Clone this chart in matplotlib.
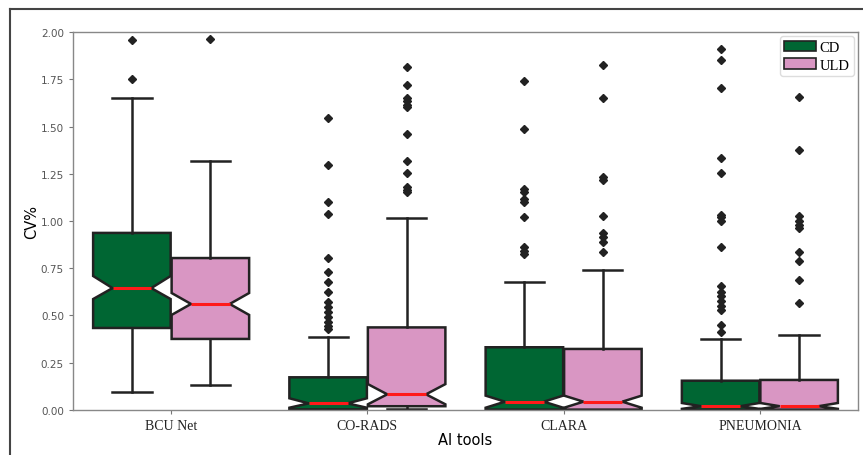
import numpy as np
import matplotlib
matplotlib.use("Agg")
import matplotlib.pyplot as plt
from matplotlib.patches import Patch
from matplotlib.lines import Line2D

tools = ["BCU Net", "CO-RADS", "CLARA", "PNEUMONIA"]
groups = ["CD", "ULD"]

# per-box summary stats: tool x group
whislo = {"CD": [0.095, 0.0, 0.0, 0.0], "ULD": [0.132, 0.003, 0.0, 0.0]}
q1 = {"CD": [0.434, 0.003, 0.002, 0.002], "ULD": [0.376, 0.02, 0.002, 0.002]}
cilo = {"CD": [0.587, 0.012, 0.012, 0.006], "ULD": [0.503, 0.03, 0.012, 0.006]}
med = {"CD": [0.645, 0.035, 0.044, 0.02], "ULD": [0.561, 0.083, 0.044, 0.02]}
cihi = {"CD": [0.709, 0.062, 0.076, 0.037], "ULD": [0.619, 0.137, 0.076, 0.037]}
q3 = {"CD": [0.937, 0.173, 0.332, 0.155], "ULD": [0.804, 0.437, 0.323, 0.159]}
whishi = {"CD": [1.65, 0.386, 0.675, 0.376], "ULD": [1.32, 1.014, 0.741, 0.399]}

fliers = {
    "CD": [
        [1.96, 1.75],
        [1.543, 1.296, 1.099, 1.037, 0.802, 0.731, 0.678, 0.622, 0.569,
         0.543, 0.516, 0.490, 0.467, 0.446, 0.429],
        [1.742, 1.487, 1.169, 1.155, 1.116, 1.099, 1.020, 0.861, 0.843, 0.825],
        [1.910, 1.854, 1.702, 1.332, 1.252, 1.032, 1.019, 1.002, 0.861, 0.654,
         0.623, 0.601, 0.578, 0.552, 0.531, 0.450, 0.411],
    ],
    "ULD": [
        [1.965],
        [1.813, 1.720, 1.652, 1.637, 1.614, 1.602, 1.460, 1.319, 1.254,
         1.178, 1.166, 1.151],
        [1.827, 1.651, 1.231, 1.218, 1.025, 0.935, 0.914, 0.890, 0.834],
        [1.654, 1.377, 1.025, 1.002, 0.979, 0.961, 0.838, 0.790, 0.688, 0.566],
    ],
}

colors = {"CD": "#006633", "ULD": "#d996c3"}
edge = "#222222"

fig = plt.figure(figsize=(8.63, 4.56), dpi=100)
ax = fig.add_axes([0.0846, 0.0987, 0.9096, 0.8289])

for j, g in enumerate(groups):
    stats = []
    for i in range(len(tools)):
        stats.append(dict(whislo=whislo[g][i], q1=q1[g][i], cilo=cilo[g][i],
                          med=med[g][i], cihi=cihi[g][i], q3=q3[g][i],
                          whishi=whishi[g][i], fliers=fliers[g][i]))
    pos = np.arange(len(tools)) + (j - 0.5) * 0.4
    ax.bxp(stats, positions=pos, widths=0.395, shownotches=True,
           patch_artist=True, manage_ticks=False, capwidths=0.2,
           boxprops=dict(facecolor=colors[g], edgecolor=edge, linewidth=1.8),
           whiskerprops=dict(color=edge, linewidth=1.8),
           capprops=dict(color=edge, linewidth=1.8),
           medianprops=dict(color="#ff1a1a", linewidth=2.2),
           flierprops=dict(marker="D", markersize=3.6, markerfacecolor="#222222",
                           markeredgecolor="#222222"))

ax.set_xlim(-0.5, 3.5)
ax.set_ylim(0, 2.0)
ax.set_yticks(np.arange(0, 2.01, 0.25))
ax.set_yticklabels([f"{v:.2f}" for v in np.arange(0, 2.01, 0.25)],
                   fontsize=7.5, color="#555555")
ax.set_xticks(range(len(tools)))
ax.set_xticklabels(tools, family="Liberation Serif", fontsize=10, color="#222222")
ax.tick_params(axis="both", length=3, color="#777777", width=0.8)
for s in ax.spines.values():
    s.set_color("#888888")
    s.set_linewidth(1.0)
ax.set_xlabel("AI tools", fontsize=10.5, labelpad=0)
ax.set_ylabel("CV%", fontsize=10.5, labelpad=1)

handles = [Patch(facecolor=colors[g], edgecolor=edge, linewidth=1.2, label=g) for g in groups]
ax.legend(handles=handles, loc="upper right", prop=dict(family="Liberation Serif", size=10.5),
          handlelength=2.2, handleheight=0.7, handletextpad=0.2, borderpad=0.3,
          labelspacing=0.3, borderaxespad=0.3, frameon=True, edgecolor="#dddddd",
          fancybox=True, framealpha=1)

# outer frame of the original figure
fig.add_artist(Line2D([10 / 863, 10 / 863], [0, 1 - 10 / 456], color="#444444",
                      linewidth=1.5, transform=fig.transFigure))
fig.add_artist(Line2D([10 / 863, 1], [1 - 10 / 456, 1 - 10 / 456], color="#444444",
                      linewidth=1.5, transform=fig.transFigure))

fig.savefig("out.png", dpi=100)
